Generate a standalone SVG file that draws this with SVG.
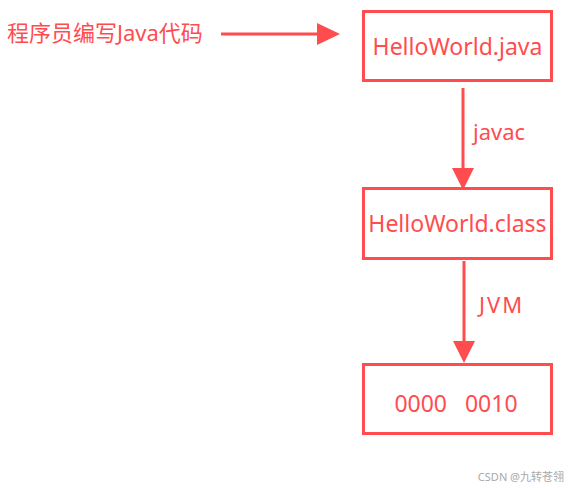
<svg xmlns="http://www.w3.org/2000/svg" width="569" height="488" viewBox="0 0 569 488">
<defs>
<style>
.box{fill:#fff;stroke:#FF4D4F;stroke-width:3}
.t{font-family:"Noto Sans","Noto Sans CJK SC",sans-serif;font-size:23px;fill:#FF4D4F}
.lbl{font-family:"Noto Sans","Noto Sans CJK SC",sans-serif;font-size:22px;fill:#FF4D4F}
.ln{stroke:#FF4D4F;stroke-width:3;fill:none}
.ah{fill:#FF4D4F}
.wm{font-family:"Noto Sans","Noto Sans CJK SC",sans-serif;font-size:11px;fill:#a8a8a8}
</style>
</defs>
<rect width="569" height="488" fill="#fff"/>
<g id="connectors">
<line class="ln" x1="221" y1="34" x2="319" y2="34"/>
<polygon class="ah" points="317,23 340,34 317,45"/>
<line class="ln" x1="463" y1="88" x2="463" y2="170"/>
<polygon class="ah" points="452,168 474,168 463,190"/>
<line class="ln" x1="464" y1="261" x2="464" y2="343"/>
<polygon class="ah" points="453,341 475,341 464,363"/>
<text class="lbl" x="473" y="140">javac</text>
<text class="lbl" x="479" y="313" letter-spacing="2">JVM</text>
</g>
<g id="source-text">
<text class="t" x="7" y="41" style="font-size:22px">程序员编写Java代码</text>
</g>
<g id="node-java">
<rect class="box" x="363.5" y="11.5" width="188" height="69"/>
<text class="t" x="457.5" y="55" text-anchor="middle">HelloWorld.java</text>
</g>
<g id="node-class">
<rect class="box" x="363.5" y="188.5" width="188" height="70"/>
<text class="t" x="457.5" y="232" text-anchor="middle">HelloWorld.class</text>
</g>
<g id="node-binary">
<rect class="box" x="363.5" y="364.5" width="188" height="69"/>
<text class="t" x="456" y="412" text-anchor="middle" xml:space="preserve">0000   0010</text>
</g>
<text class="wm" x="564" y="481" text-anchor="end">CSDN @九转苍翎</text>
</svg>
